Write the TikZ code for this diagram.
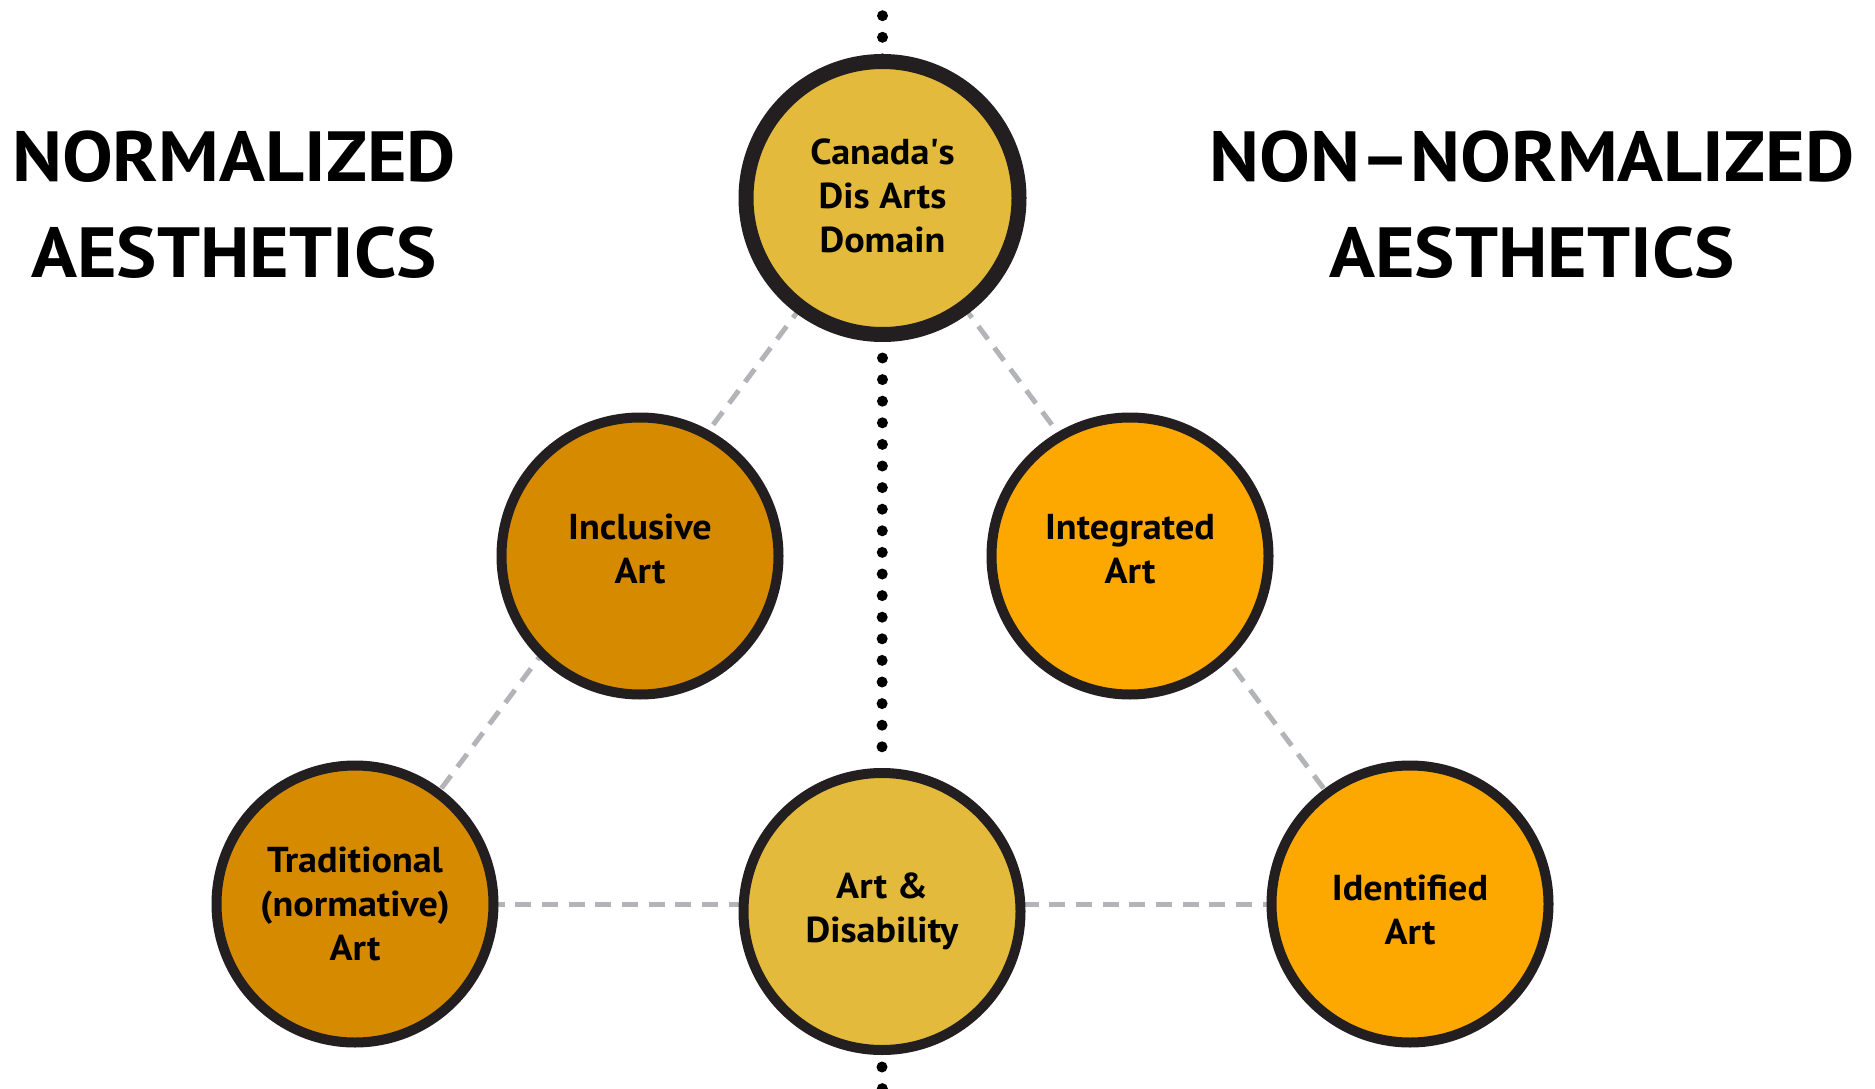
\documentclass[tikz,border=0pt]{standalone}
\usepackage{fontspec}
\setmainfont{PT Sans}
\usetikzlibrary{backgrounds}
\definecolor{gold}{HTML}{E3BA3C}
\definecolor{darkorange}{HTML}{D68A00}
\definecolor{brightorange}{HTML}{FCA800}
\definecolor{ringcol}{HTML}{231F20}
\definecolor{dashgray}{HTML}{B3B4B8}
\newcommand{\lowpad}[1]{\rule[-#1]{0pt}{#1}}
\newcommand{\toppad}[1]{\rule{0pt}{#1}}
\tikzset{
  bubble/.style={circle, draw=ringcol, line width=10pt, minimum size=277pt, inner sep=0pt,
    align=center, text=black, font=\bfseries\fontsize{36}{44}\selectfont\addfontfeature{FakeStretch=1.06}},
  headline/.style={align=center, text=black, font=\bfseries\fontsize{71}{96}\selectfont\addfontfeature{FakeStretch=1.07}, inner sep=0pt},
  dotline/.style={line width=11pt, line cap=round, dash pattern=on 0pt off 21.6pt, black},
  grayline/.style={line width=5pt, dashgray, dash pattern=on 16pt off 10.7pt}
}
\begin{document}
\begin{tikzpicture}[x=1pt,y=-1pt]
\useasboundingbox (0,0) rectangle (1875,1089);
% titles
\node[headline] (left) at (234,205) {NORMALIZED\\AESTHETICS};
\node[headline] (right) at (1532,205) {NON–NORMALIZED\\AESTHETICS};
% circles
\node[bubble, fill=gold, line width=15pt, minimum size=273pt] (canada) at (882.5,198) {Canada\textquotesingle s\\Dis Arts\\Domain\lowpad{5pt}};
\node[bubble, fill=darkorange] (incl) at (640,556) {Inclusive\\Art\lowpad{15pt}};
\node[bubble, fill=brightorange] (integ) at (1130,556) {Integrated\\Art\lowpad{15pt}};
\node[bubble, fill=darkorange] (trad) at (355,904) {Traditional\\(normative)\\Art};
\node[bubble, fill=gold] (artdis) at (882,911.5) {Art \&\\Disability};
\node[bubble, fill=brightorange] (ident) at (1410,904) {\toppad{38pt}Identified\\Art};
\coordinate (dtop) at (882.5,15.7);
\coordinate (dbot) at (882.5,1100);
\begin{scope}[on background layer]
  \draw[grayline] (canada.center) -- (trad.center);
  \draw[grayline] (canada.center) -- (ident.center);
  \draw[grayline] (trad.center) -- (ident.center);
  \draw[dotline] (dtop) -- (canada.center);
  \draw[dotline] ([yshift=-16pt]canada.south) -- (artdis.north);
  \draw[dotline] ([yshift=-12pt]artdis.south) -- (dbot);
\end{scope}
\end{tikzpicture}
\end{document}
